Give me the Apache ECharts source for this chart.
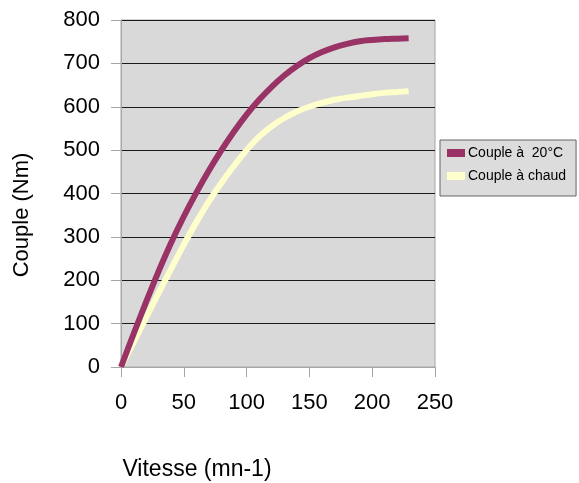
<!DOCTYPE html>
<html>
<head>
<meta charset="utf-8">
<script src="https://cdn.jsdelivr.net/npm/echarts@6/dist/echarts.min.js"></script>
<style>
  html, body { margin: 0; padding: 0; background: #fff; }
  #chart { width: 579px; height: 483px; }
</style>
</head>
<body>
<div id="chart"></div>
<script>
// vitesse (mn-1) et couple (Nm)
const vitesse = [0, 10, 20, 30, 40, 50, 60, 70, 80, 90, 100, 110, 120, 130, 140, 150, 160, 170, 180, 190, 200, 210, 220, 229]
const couple20 = [0, 76, 150, 221, 287, 347, 402, 453, 500, 543, 582, 616, 646, 672, 694, 712, 726, 737, 745, 751, 754, 756, 757, 758]
const coupleChaud = [0, 57, 114, 171, 227, 282, 334, 382, 425, 464, 500, 531, 555, 574, 589, 600, 609, 616, 621, 625, 629, 632, 634, 636]
const seriesNames = ['Couple à  20°C', 'Couple à chaud']
const xTicks = { min: 0, max: 250, step: 50 }
const yTicks = { min: 0, max: 800, step: 100 }

const font = 'Liberation Sans, Arial, sans-serif'
const pairs = ys => vitesse.map((v, i) => [v, ys[i]])

const chart = echarts.init(document.getElementById('chart'))

chart.setOption({
  animation: false,
  grid: {
    left: 121, right: 144, top: 20, bottom: 116,
    show: true,
    backgroundColor: '#d9d9d9',
    borderColor: '#a6a6a6',
    borderWidth: 1,
  },
  legend: {
    data: seriesNames,
    orient: 'vertical',
    left: 440,
    top: 140,
    padding: [6, 10, 13, 7],
    itemGap: 9,
    itemWidth: 18,
    itemHeight: 8,
    icon: 'rect',
    backgroundColor: '#dcdcdc',
    borderColor: '#666',
    borderWidth: 1,
    textStyle: { fontFamily: font, fontSize: 14, color: '#000', padding: [0, 0, 0, -2] },
  },
  xAxis: {
    type: 'value',
    min: xTicks.min,
    max: xTicks.max,
    interval: xTicks.step,
    axisLine: { show: true, lineStyle: { color: '#a6a6a6' } },
    axisTick: { show: true, length: 10, lineStyle: { color: '#a6a6a6' } },
    axisLabel: { margin: 25, fontFamily: font, fontSize: 22, color: '#000' },
    splitLine: { show: false },
  },
  yAxis: {
    type: 'value',
    min: yTicks.min,
    max: yTicks.max,
    interval: yTicks.step,
    axisLine: { show: true, lineStyle: { color: '#a6a6a6' } },
    axisTick: { show: true, length: 10, lineStyle: { color: '#a6a6a6' } },
    axisLabel: { margin: 21, fontFamily: font, fontSize: 22, color: '#000' },
    splitLine: { show: true, lineStyle: { color: '#1a1a1a', width: 1 } },
  },
  graphic: [
    {
      type: 'text',
      x: 22, y: 215,
      rotation: Math.PI / 2,
      style: { text: 'Couple (Nm)', font: `22px ${font}`, fill: '#000', textAlign: 'center', textVerticalAlign: 'middle' },
    },
    {
      type: 'text',
      x: 197, y: 470,
      style: { text: 'Vitesse (mn-1)', font: `23px ${font}`, fill: '#000', textAlign: 'center', textVerticalAlign: 'middle' },
    },
  ],
  series: [
    {
      name: seriesNames[0],
      type: 'line',
      z: 3,
      data: pairs(couple20),
      smooth: 0.3,
      showSymbol: false,
      color: '#993366',
      lineStyle: { width: 6, color: '#993366' },
    },
    {
      name: seriesNames[1],
      type: 'line',
      z: 2,
      data: pairs(coupleChaud),
      smooth: 0.3,
      showSymbol: false,
      color: '#ffffcc',
      lineStyle: { width: 6, color: '#ffffcc' },
    },
  ],
})
</script>
</body>
</html>
